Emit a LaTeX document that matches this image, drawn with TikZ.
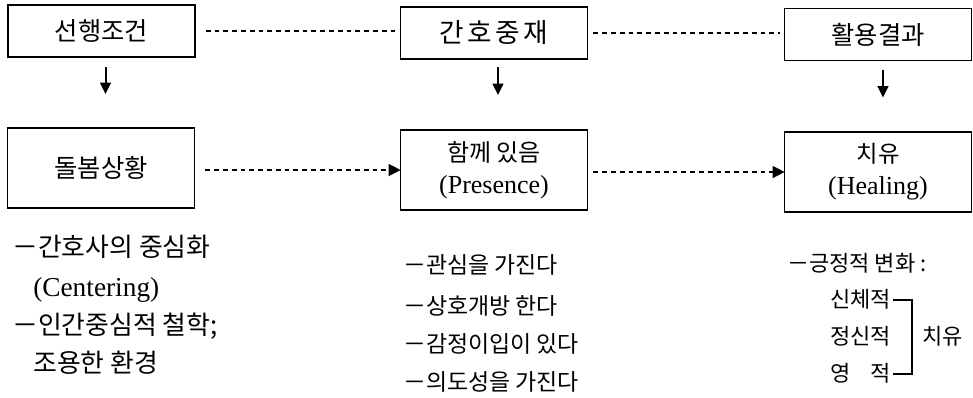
\documentclass[tikz,border=0pt]{standalone}
\usepackage{fontspec}
\setmainfont{Liberation Serif}
\newfontfamily\kr{Noto Sans CJK KR}
\usetikzlibrary{arrows.meta,calc}
\newcommand{\fs}[1]{\fontsize{#1}{#1}\selectfont}
\begin{document}
\begin{tikzpicture}[x=0.75pt,y=-0.75pt,
  box/.style={draw,line width=1.1pt,inner sep=0pt,outer sep=0pt,align=center,
    font=\fontsize{19}{24}\selectfont\kr},
  topbox/.style={box,minimum width=140pt,minimum height=39pt},
  botbox/.style={box,minimum width=140pt,minimum height=60pt},
  link/.style={line width=1pt,dash pattern=on 3.6pt off 3pt},
  flow/.style={link,-{Triangle[length=9pt,width=9pt]}},
  down/.style={line width=1.5pt,-{Triangle[length=8.5pt,width=8pt]}},
  txt/.style={anchor=west,inner sep=0pt,font=\kr},
  lat/.style={anchor=west,inner sep=0pt},
  brk/.style={line width=0.8pt}]
\useasboundingbox (0,0) rectangle (973,397);
% top boxes
\node[topbox] (b1) at (101.5,31) {선행조건};
\node[topbox,font=\fontsize{20}{24}\selectfont\kr] (b2) at (494,33) {간\hspace{2.5pt}호\hspace{2.5pt}중\hspace{2.5pt}재};
\node[topbox] (b3) at (878,34.5) {활용결과};
% bottom boxes
\node[botbox] (b4) at (101,168) {돌봄상황};
\node[botbox,font=\fontsize{18}{24}\selectfont\kr] (b5) at (494,170) {함께 있음\\{\rmfamily\fontsize{19.5}{24}\selectfont(Presence)}};
\node[botbox,font=\fontsize{17.5}{24}\selectfont\kr] (b6) at (878,172) {치유\\{\rmfamily\fontsize{19.5}{24}\selectfont(Healing)}};
% dotted links top
\draw[link,shorten <=11pt*0.75,shorten >=6pt*0.75] (b1.east) -- (b1.east -| b2.west);
\draw[link,shorten <=6pt*0.75,shorten >=5pt*0.75] (b2.east) -- (b2.east -| b3.west);
% dashed arrows bottom
\draw[flow,shorten <=11pt*0.75] (b4.east |- b5.west) -- (b5.west);
\draw[flow,shorten <=6pt*0.75] (b5.east |- b6.west) -- (b6.west);
% down arrows
\coordinate (d1) at ($(b1.south)+(4,10)$);
\coordinate (d1e) at ($(b1.south)+(4,37)$);
\coordinate (d2) at ($(b2.south)+(4,8)$);
\coordinate (d2e) at ($(b2.south)+(4,36)$);
\coordinate (d3) at ($(b3.south)+(5,9)$);
\coordinate (d3e) at ($(b3.south)+(5,37)$);
\draw[down] (d1) -- (d1e);
\draw[down] (d2) -- (d2e);
\draw[down] (d3) -- (d3e);
% left column
\node[txt,font=\fs{19.4}\kr] (l1) at (12,247) {－간호사의 중심화};
\node[lat,font=\fs{20.5}] (l2) at (33,290) {(Centering)};
\node[txt,font=\fs{19.4}\kr] (l3) at (12,326) {－인간중심적 철학;};
\node[txt,font=\fs{19.4}\kr] (l4) at (33,363) {조용한 환경};
% middle column
\node[txt,font=\fs{17.2}\kr] (m1) at (403,265) {－관심을 가진다};
\node[txt,font=\fs{17.2}\kr] (m2) at (403,306) {－상호개방 한다};
\node[txt,font=\fs{17.2}\kr] (m3) at (403,344) {－감정이입이 있다};
\node[txt,font=\fs{17.2}\kr] (m4) at (403,382) {－의도성을 가진다};
% right column
\node[txt,font=\fs{16.5}\kr] (r1) at (787,263) {－긍정적 변화 :};
\node[txt,font=\fs{16.5}\kr] (r2) at (830,299) {신체적};
\node[txt,font=\fs{16.5}\kr] (r3) at (830,336) {정신적};
\node[txt,font=\fs{16.5}\kr] (r4) at (830,373) {영\hphantom{체}적};
\node[txt,font=\fs{16.5}\kr] (r5) at (922,336) {치유};
\coordinate (k1) at (912,300);
\coordinate (k2) at (912,374);
\draw[brk] (r2.east) ++(2,1) -- (k1) -- (k2) -- ($(r4.east)+(2,1)$);
\end{tikzpicture}
\end{document}
